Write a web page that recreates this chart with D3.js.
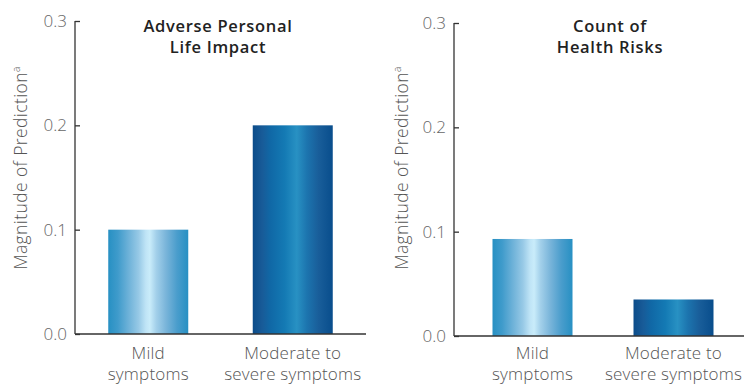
<!DOCTYPE html>
<html>
<head>
<meta charset="utf-8">
<script src="https://cdn.jsdelivr.net/npm/d3@7"></script>
<style>
  html, body { margin: 0; padding: 0; background: #fff; }
  svg { display: block; }
  text { font-family: "Open Sans", Lato, sans-serif; }
</style>
</head>
<body>
<svg id="chart" width="753" height="385"></svg>
<script>
// Data
const categories = ["Mild symptoms", "Moderate to severe symptoms"];
const categoryLines = [["Mild", "symptoms"], ["Moderate to", "severe symptoms"]];
const panelTitles = [["Adverse Personal", "Life Impact"], ["Count of", "Health Risks"]];
const personalImpactValues = [0.10, 0.20];
const healthRiskValues = [0.093, 0.035];
const yTicks = [0.0, 0.1, 0.2, 0.3];
const yLabel = "Magnitude of Prediction";

const svg = d3.select("#chart");

// gradient definitions for the two bar styles
const defs = svg.append("defs");
function gradient(id, stops) {
  const g = defs.append("linearGradient").attr("id", id)
    .attr("x1", "0%").attr("x2", "100%").attr("y1", "0%").attr("y2", "0%");
  stops.forEach(([o, c]) => g.append("stop").attr("offset", o).attr("stop-color", c));
}
gradient("gMild", [
  [0, "#2790c3"], [0.12, "#3f9bcb"], [0.25, "#6cb1d8"], [0.38, "#97c9e6"],
  [0.47, "#bfe4f6"], [0.52, "#c9ecfa"], [0.6, "#a3d0ea"], [0.72, "#7ab5da"],
  [0.86, "#4a9dcc"], [1, "#2790c3"]
]);
gradient("gSevere", [
  [0, "#0b4c8a"], [0.12, "#185b98"], [0.22, "#1068a6"], [0.4, "#147ab4"],
  [0.55, "#2891c3"], [0.68, "#1c74ae"], [0.82, "#195e9a"], [1, "#084d8c"]
]);
const fills = ["url(#gMild)", "url(#gSevere)"];

const panels = [
  { values: personalImpactValues, title: panelTitles[0], axisX: 75, top: 21, bottom: 334,
    xRange: [76, 365], axisEnd: 366, titleX: 218, labelX: 27 },
  { values: healthRiskValues, title: panelTitles[1], axisX: 454, top: 23, bottom: 336,
    xRange: [462, 744], axisEnd: 744, titleX: 610, labelX: 408 }
];

panels.forEach(p => {
  const g = svg.append("g");
  const y = d3.scaleLinear().domain([0, 0.3]).range([p.bottom, p.top]);
  const x = d3.scaleBand().domain(categories).range(p.xRange).padding(0);
  const barW = 80;

  // bars
  g.selectAll("rect.bar").data(p.values).join("rect")
    .attr("class", "bar")
    .attr("x", (d, i) => x(categories[i]) + x.bandwidth() / 2 - barW / 2)
    .attr("y", d => y(d))
    .attr("width", barW)
    .attr("height", d => y(0) - y(d))
    .attr("fill", (d, i) => fills[i]);

  // y axis with short inward ticks
  const yAxis = d3.axisRight(y).tickValues(yTicks).tickSize(5).tickFormat("");
  const ya = g.append("g").attr("transform", `translate(${p.axisX},0)`).call(yAxis);
  ya.select(".domain").attr("stroke", "#333").attr("stroke-width", 1.3)
    .attr("d", `M0,${p.top}V${p.bottom}`);
  ya.selectAll(".tick line").attr("stroke", "#333").attr("stroke-width", 1.3);

  // tick labels
  g.selectAll("text.ytick").data(yTicks).join("text")
    .attr("class", "ytick")
    .attr("x", p.axisX - 8)
    .attr("y", d => y(d))
    .attr("dy", "0.36em")
    .attr("text-anchor", "end")
    .attr("font-size", 17)
    .attr("font-weight", 300)
    .attr("fill", "#666")
    .text(d => d3.format(".1f")(d));

  // baseline
  g.append("line")
    .attr("x1", p.axisX).attr("x2", p.axisEnd)
    .attr("y1", y(0)).attr("y2", y(0))
    .attr("stroke", "#333").attr("stroke-width", 1.5);

  // category labels
  categoryLines.forEach((lines, i) => {
    const cx = x(categories[i]) + x.bandwidth() / 2;
    lines.forEach((ln, j) => {
      g.append("text")
        .attr("x", cx).attr("y", 359 + j * 21)
        .attr("text-anchor", "middle")
        .attr("font-size", 17)
        .attr("font-weight", 300)
        .attr("letter-spacing", 0.2)
        .attr("fill", "#555")
        .text(ln);
    });
  });

  // panel title
  p.title.forEach((ln, j) => {
    g.append("text")
      .attr("x", p.titleX).attr("y", 32 + j * 21)
      .attr("text-anchor", "middle")
      .attr("font-size", 16.5)
      .attr("font-weight", 600)
      .attr("letter-spacing", 0.7)
      .attr("fill", "#222")
      .text(ln);
  });

  // rotated axis title with superscript
  const lab = g.append("text")
    .attr("transform", `translate(${p.labelX},168) rotate(-90)`)
    .attr("text-anchor", "middle")
    .attr("font-size", 17.5)
    .attr("font-weight", 300)
    .attr("letter-spacing", 0.4)
    .attr("fill", "#555");
  lab.append("tspan").text(yLabel);
  lab.append("tspan").attr("font-size", 10).attr("dy", -7).text("a");
});
</script>
</body>
</html>
